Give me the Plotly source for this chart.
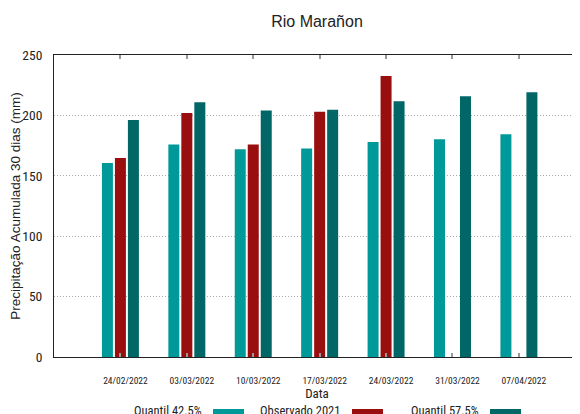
import plotly.graph_objects as go

# ---- data ----
dates = ["24/02/2022", "03/03/2022", "10/03/2022", "17/03/2022",
         "24/03/2022", "31/03/2022", "07/04/2022"]
quantil_425 = [160.6, 176.0, 172.0, 172.5, 178.0, 180.2, 184.3]
observado_2021 = [164.7, 202.0, 176.0, 203.0, 232.6, None, None]
quantil_575 = [196.2, 210.8, 204.0, 204.7, 211.7, 215.8, 219.1]
series_names = ["Quantil 42.5%", "Observado 2021", "Quantil 57.5%"]
series_colors = ["#009999", "#990e0e", "#006666"]
y_ticks = [0, 50, 100, 150, 200, 250]

W, H = 580, 414
OFF = 8  # page body margin offset
# plot area in page pixels: x 54..580, y 55..357
ML, MT = 54 - OFF, 55 - OFF
MR = W - (580 - OFF)
MB = H - (357 - OFF)
PW, PH = W - ML - MR, H - MT - MB

NARROW = "Roboto Condensed, DejaVu Sans Condensed, sans-serif"
REG = "Liberation Sans, Arial, sans-serif"

x = list(range(len(dates)))

fig = go.Figure()
for name, vals, col in zip(series_names, [quantil_425, observado_2021, quantil_575], series_colors):
    fig.add_trace(go.Bar(x=x, y=vals, name=name, marker=dict(color=col, line=dict(width=0)),
                         showlegend=False))

def px_x(p):  # page pixel -> paper
    return (p - OFF - ML) / PW

def px_y(p):
    return (H - MB - (p - OFF)) / PH

shapes = []
annotations = []
legend_spec = [  # text right edge, swatch left, swatch right (page px)
    (204, 213, 244),
    (342, 352, 383),
    (481, 490, 521),
]
for (tr, s0, s1), name, col in zip(legend_spec, series_names, series_colors):
    annotations.append(dict(x=px_x(tr), y=px_y(410.5), xref="paper", yref="paper",
                            text=name, showarrow=False, xanchor="right", yanchor="middle",
                            font=dict(family=NARROW, size=12.5, color="#222")))
    shapes.append(dict(type="rect", xref="paper", yref="paper",
                       x0=px_x(s0), x1=px_x(s1), y0=px_y(418), y1=px_y(409),
                       fillcolor=col, line=dict(width=0)))

fig.update_layout(
    width=W, height=H,
    margin=dict(l=ML, r=MR, t=MT, b=MB, autoexpand=False),
    paper_bgcolor="white", plot_bgcolor="white",
    barmode="group", bargap=0.413, bargroupgap=0.154,
    title=dict(text="Rio Marañon", x=0.5, xref="paper", xanchor="center",
               y=1 - (21 - OFF) / H, yanchor="middle", yref="container", automargin=False,
               font=dict(family=REG, size=16, color="#222")),
    xaxis=dict(range=[-1.0, 6.92], tickvals=x, ticktext=dates, automargin=False,
               ticks="inside", ticklen=4, tickcolor="#999", tickwidth=2,
               showline=True, linecolor="#222", linewidth=1, mirror="ticks",
               showgrid=False, zeroline=False,
               ticklabelshift=5, ticklabelstandoff=15,
               tickfont=dict(family=NARROW, size=9.5, color="#222"),
               title=dict(text="Data", standoff=2,
                          font=dict(family=NARROW, size=13, color="#222"))),
    yaxis=dict(range=[0, 250], tickvals=y_ticks, ticks="", automargin=False,
               showline=True, linecolor="#222", linewidth=1,
               showgrid=True, gridcolor="#aaaaaa", griddash="1px,2px", gridwidth=1,
               zeroline=False, ticklabelstandoff=8,
               tickfont=dict(family=NARROW, size=13.5, color="#222"),
               title=dict(text="Precipitação Acumulada 30 dias (mm)", standoff=4,
                          font=dict(family=REG, size=13.5, color="#222"))),
    shapes=shapes, annotations=annotations,
)

fig.write_html("out.html")
